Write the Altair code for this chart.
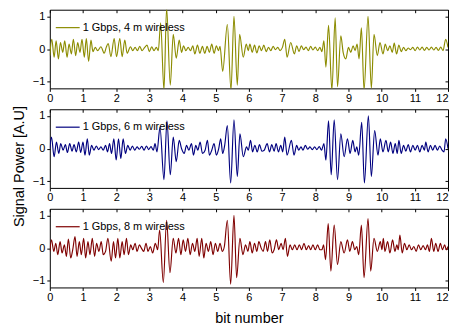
import altair as alt
import pandas as pd

labels = ["1 Gbps, 4 m wireless", "1 Gbps, 6 m wireless", "1 Gbps, 8 m wireless"]
colors = ["#8c8c00", "#00007f", "#7f0000"]
x_ticks = [0, 1, 2, 3, 4, 5, 6, 7, 8, 9, 10, 11, 12]
y_ticks = [-1, 0, 1]

# ---- 4 m wireless (extrema) ----
x4 = [0.00, 0.06, 0.13, 0.19, 0.26, 0.32, 0.39, 0.45, 0.52, 0.58, 0.65, 0.71, 0.78, 0.84, 0.91, 0.97,
      1.04, 1.10, 1.17, 1.24, 1.30, 1.37, 1.44, 1.54, 1.64, 1.70, 1.76, 1.84, 1.94, 2.01, 2.11, 2.18,
      2.26, 2.33, 2.43, 2.50, 2.57, 2.64, 2.71, 2.78, 2.86, 2.93, 3.00, 3.07, 3.14, 3.21, 3.27, 3.34,
      3.44, 3.52, 3.63, 3.72, 3.81, 3.90, 3.97, 4.03, 4.10, 4.17, 4.24, 4.31, 4.37, 4.45, 4.52, 4.60,
      4.67, 4.74, 4.81, 4.88, 4.95, 5.02, 5.08, 5.13, 5.21, 5.35, 5.46, 5.55, 5.65, 5.72, 5.83, 5.92,
      5.98, 6.03, 6.10, 6.17, 6.24, 6.31, 6.38, 6.45, 6.52, 6.59, 6.66, 6.73, 6.80, 6.87, 6.94, 7.01,
      7.08, 7.15, 7.26, 7.37, 7.44, 7.51, 7.58, 7.65, 7.72, 7.79, 7.86, 7.93, 8.00, 8.07, 8.14, 8.20,
      8.26, 8.32, 8.40, 8.50, 8.60, 8.67, 8.77, 8.84, 8.92, 9.00, 9.07, 9.14, 9.20, 9.26, 9.32, 9.39,
      9.47, 9.59, 9.69, 9.77, 9.87, 9.95, 10.04, 10.11, 10.18, 10.25, 10.32, 10.38, 10.45, 10.52, 10.59, 10.66,
      10.73, 10.80, 10.87, 10.94, 11.01, 11.08, 11.15, 11.22, 11.29, 11.36, 11.43, 11.50, 11.57, 11.64, 11.71, 11.78,
      11.85, 11.93, 12.00]
y4 = [-0.2, 0.3, -0.25, 0.25, -0.3, 0.2, -0.1, 0.25, -0.25, 0.15, -0.15, 0.3, -0.2, 0.2, -0.1, 0.3,
      -0.25, 0.32, -0.38, 0.27, -0.08, 0.05, -0.05, 0.07, -0.13, 0.05, 0.17, -0.23, 0.32, -0.23, 0.32, -0.23,
      0.27, -0.13, 0.07, -0.05, 0.05, -0.05, 0.08, -0.05, 0.05, 0.12, -0.08, 0.07, -0.05, 0.05, -0.05, 0.8,
      -1.25, 1.25, -1.1, 0.45, -0.28, 0.27, -0.1, 0.1, -0.05, 0.05, -0.05, 0.1, -0.15, 0.12, -0.13, 0.08,
      -0.13, 0.08, -0.1, 0.15, -0.13, 0.1, -0.05, 0.08, -0.68, 0.75, -1.25, 1.0, -1.1, 0.45, -0.25, 0.15,
      -0.05, 0.15, -0.1, 0.12, -0.12, 0.1, -0.05, 0.12, -0.08, 0.05, -0.05, 0.08, -0.02, 0.05, -0.05, 0.05,
      0.3, -0.25, 0.2, -0.15, 0.1, -0.08, 0.1, -0.02, 0.06, -0.05, 0.08, -0.03, 0.06, -0.05, 0.05, -0.08,
      0.25, -0.55, 0.72, -1.25, 0.95, -1.15, 0.4, -0.1, -0.3, 0.05, -0.1, 0.1, -0.05, 0.15, -0.3, 0.65,
      -1.25, 1.0, -1.2, 0.45, -0.2, 0.2, -0.15, 0.15, -0.05, 0.1, -0.1, 0.18, -0.15, 0.12, -0.08, 0.05,
      -0.05, 0.03, -0.02, 0.05, -0.05, 0.06, -0.03, 0.06, -0.04, 0.05, -0.03, 0.06, -0.03, 0.05, -0.04, 0.06,
      -0.05, 0.3, 0.05]

# ---- 6 m wireless ----
x6 = [0.00, 0.05, 0.13, 0.20, 0.27, 0.33, 0.40, 0.47, 0.53, 0.60, 0.67, 0.73, 0.80, 0.87, 0.93, 1.00,
      1.06, 1.13, 1.19, 1.26, 1.33, 1.40, 1.47, 1.54, 1.61, 1.68, 1.74, 1.80, 1.86, 1.93, 2.00, 2.07,
      2.14, 2.21, 2.28, 2.35, 2.42, 2.49, 2.56, 2.63, 2.70, 2.77, 2.84, 2.91, 2.98, 3.05, 3.12, 3.17,
      3.23, 3.32, 3.44, 3.53, 3.63, 3.72, 3.81, 3.90, 3.97, 4.05, 4.12, 4.19, 4.27, 4.33, 4.40, 4.46,
      4.53, 4.60, 4.68, 4.75, 4.81, 4.88, 4.95, 5.02, 5.09, 5.15, 5.21, 5.27, 5.35, 5.45, 5.55, 5.65,
      5.73, 5.83, 5.93, 5.98, 6.05, 6.11, 6.18, 6.25, 6.32, 6.39, 6.46, 6.55, 6.62, 6.69, 6.76, 6.82,
      6.89, 6.96, 7.02, 7.08, 7.15, 7.28, 7.36, 7.44, 7.50, 7.57, 7.63, 7.70, 7.77, 7.84, 7.91, 7.98,
      8.05, 8.12, 8.19, 8.26, 8.32, 8.40, 8.48, 8.57, 8.67, 8.77, 8.87, 8.97, 9.05, 9.13, 9.20, 9.25,
      9.31, 9.40, 9.48, 9.60, 9.69, 9.79, 9.89, 9.96, 10.04, 10.13, 10.20, 10.27, 10.34, 10.41, 10.47, 10.52,
      10.59, 10.66, 10.73, 10.80, 10.87, 10.94, 11.01, 11.08, 11.15, 11.22, 11.29, 11.33, 11.40, 11.47, 11.54, 11.61,
      11.68, 11.75, 11.82, 11.88, 11.93, 12.00]
y6 = [0.0, 0.35, -0.25, 0.2, -0.15, 0.15, -0.05, 0.12, -0.12, 0.15, -0.08, 0.12, -0.1, 0.2, -0.12, 0.2,
      -0.2, 0.3, -0.2, 0.1, -0.05, 0.08, -0.03, 0.05, -0.05, 0.1, -0.1, 0.15, -0.15, 0.3, -0.35, 0.3,
      -0.3, 0.3, -0.15, 0.1, -0.05, 0.08, -0.05, 0.05, -0.02, 0.07, -0.05, 0.08, -0.03, 0.06, -0.05, 0.15,
      -0.1, 0.65, -0.95, 0.85, -0.8, 0.35, -0.4, 0.25, 0.0, -0.15, 0.1, -0.05, 0.15, -0.2, 0.1, -0.05,
      0.2, -0.15, -0.05, 0.25, -0.2, -0.05, 0.15, -0.2, 0.0, 0.3, -0.15, 0.1, 0.7, -1.05, 0.88, -0.85,
      0.45, -0.25, 0.05, -0.05, 0.25, -0.1, 0.1, -0.1, 0.12, -0.08, -0.05, 0.15, -0.1, 0.12, -0.08, 0.15,
      -0.1, 0.1, -0.1, 0.35, -0.2, 0.25, -0.2, 0.1, -0.05, 0.05, -0.05, 0.1, -0.02, 0.05, -0.03, 0.05,
      -0.03, 0.06, -0.05, 0.15, -0.35, 0.85, -0.8, 0.88, -0.95, 0.45, -0.25, 0.3, -0.15, 0.25, -0.1, 0.05,
      -0.2, 0.8, -1.05, 1.0, -0.85, 0.55, -0.2, 0.3, -0.1, 0.25, -0.1, 0.2, -0.15, 0.15, -0.15, 0.25,
      -0.15, 0.1, -0.08, 0.12, -0.1, 0.1, -0.05, 0.1, -0.1, 0.1, -0.05, 0.2, -0.1, 0.1, -0.05, 0.1,
      -0.05, 0.08, -0.05, -0.1, 0.3, 0.0]

# ---- 8 m wireless ----
x8 = [0.00, 0.05, 0.12, 0.18, 0.24, 0.31, 0.37, 0.44, 0.50, 0.56, 0.63, 0.69, 0.76, 0.82, 0.89, 0.95,
      1.02, 1.08, 1.15, 1.21, 1.28, 1.35, 1.41, 1.48, 1.55, 1.61, 1.68, 1.75, 1.85, 1.92, 1.98, 2.05,
      2.11, 2.18, 2.24, 2.31, 2.37, 2.44, 2.50, 2.57, 2.63, 2.70, 2.76, 2.83, 2.90, 2.96, 3.03, 3.10,
      3.18, 3.25, 3.31, 3.42, 3.52, 3.62, 3.72, 3.80, 3.88, 3.95, 4.02, 4.09, 4.16, 4.23, 4.30, 4.37,
      4.44, 4.50, 4.58, 4.64, 4.71, 4.78, 4.85, 4.92, 4.99, 5.06, 5.13, 5.20, 5.26, 5.35, 5.45, 5.55,
      5.63, 5.73, 5.82, 5.90, 5.97, 6.03, 6.10, 6.17, 6.24, 6.30, 6.37, 6.43, 6.50, 6.56, 6.63, 6.70,
      6.76, 6.83, 6.90, 6.97, 7.03, 7.10, 7.16, 7.24, 7.31, 7.38, 7.45, 7.52, 7.59, 7.66, 7.73, 7.80,
      7.86, 7.93, 8.00, 8.07, 8.14, 8.20, 8.25, 8.31, 8.39, 8.47, 8.57, 8.67, 8.77, 8.87, 8.97, 9.04,
      9.12, 9.19, 9.25, 9.31, 9.39, 9.47, 9.59, 9.67, 9.77, 9.87, 9.96, 10.01, 10.05, 10.10, 10.18, 10.25,
      10.33, 10.40, 10.46, 10.50, 10.55, 10.62, 10.69, 10.76, 10.83, 10.90, 10.97, 11.04, 11.11, 11.18, 11.25, 11.32,
      11.38, 11.44, 11.50, 11.57, 11.63, 11.70, 11.77, 11.83, 11.90, 11.95, 12.00]
y8 = [-0.1, 0.25, -0.1, 0.15, -0.2, 0.2, -0.15, 0.1, -0.25, 0.28, -0.3, -0.05, 0.35, -0.25, 0.2, -0.2,
      0.3, -0.3, 0.2, -0.2, 0.3, -0.25, 0.15, -0.1, 0.2, -0.2, -0.1, 0.3, -0.4, 0.2, -0.3, 0.3,
      -0.3, 0.2, -0.2, 0.3, -0.2, 0.1, -0.05, 0.15, -0.1, 0.1, 0.0, -0.1, 0.15, -0.1, 0.05, -0.15,
      0.15, -0.05, 0.55, -1.05, 0.85, -0.75, 0.3, -0.15, 0.3, -0.2, 0.25, -0.1, 0.3, -0.2, 0.15, -0.1,
      0.3, -0.25, 0.3, -0.3, 0.15, -0.1, 0.2, -0.2, 0.15, -0.1, 0.15, -0.1, 0.05, 0.85, -1.1, 1.0,
      -0.9, 0.3, -0.2, 0.1, -0.1, 0.2, -0.15, 0.15, -0.1, 0.2, 0.0, -0.1, 0.2, -0.1, 0.25, -0.15,
      -0.05, 0.25, -0.05, 0.15, -0.05, 0.3, -0.25, 0.1, -0.05, 0.1, -0.05, 0.1, -0.05, 0.15, -0.05, 0.08,
      -0.05, 0.1, -0.05, 0.1, -0.05, -0.05, 0.1, -0.35, 0.75, -0.7, 0.7, -0.5, 0.2, -0.15, 0.25, -0.1,
      0.2, -0.05, 0.05, -0.2, 0.7, -0.9, 0.9, -0.7, 0.3, -0.1, 0.2, -0.05, 0.3, -0.1, 0.2, -0.15,
      0.25, -0.1, 0.1, -0.05, 0.4, -0.15, 0.15, -0.05, 0.1, -0.05, 0.05, -0.1, 0.1, -0.05, 0.08, -0.05,
      0.1, -0.1, 0.3, -0.1, 0.15, -0.1, 0.15, -0.05, 0.1, -0.05, 0.05]

series = [(x4, y4), (x6, y6), (x8, y8)]

FONT = "Liberation Sans"


def panel(i):
    xs, ys = series[i]
    df = pd.DataFrame({"bit": xs, "power": ys, "series": labels[i]})
    base = alt.Chart(df)
    x_title = "bit number" if i == 2 else None
    y_axis = dict(orient="left", values=y_ticks, format="d", tickSize=3, labelPadding=2,
                  domain=False, labelFontSize=11, labelColor="black", tickColor="black")
    if i == 1:
        y_axis.update(title="Signal Power [A.U]", titleFontSize=14.5, titleFontWeight="normal",
                      titleX=-23, titleY=57)
    else:
        y_axis.update(title=None)
    line = base.mark_line(clip=True, strokeWidth=1.15, interpolate="monotone").encode(
        x=alt.X("bit:Q", scale=alt.Scale(domain=[0, 12], nice=False, zero=False),
                axis=alt.Axis(orient="bottom", values=x_ticks, format="d", tickSize=3,
                              labelPadding=1, domain=False, labelFontSize=11,
                              labelAlign={"condition": {"test": "datum.value == 12", "value": "right"},
                                          "value": "center"},
                              labelColor="black", tickColor="black", title=x_title,
                              titleFontSize=14.5, titleFontWeight="normal", titlePadding=9)),
        y=alt.Y("power:Q", scale=alt.Scale(domain=[-1.2, 1.2], nice=False, zero=False),
                axis=alt.Axis(**y_axis)),
        color=alt.Color("series:N", title=None,
                        scale=alt.Scale(domain=[labels[i]], range=[colors[i]]),
                        legend=alt.Legend(orient="top-left", offset=5, padding=0,
                                          symbolType="stroke", symbolSize=576,
                                          symbolStrokeWidth=1.2, labelFontSize=11,
                                          labelOffset=2, labelColor="black",
                                          labelFont=FONT)),
    )
    mirror = base.mark_line(opacity=0, clip=True).encode(
        x=alt.X("bit:Q", scale=alt.Scale(domain=[0, 12], nice=False, zero=False),
                axis=alt.Axis(orient="top", values=x_ticks, labels=False, tickSize=3,
                              offset=-3, domain=False, title=None, tickColor="black")),
        y=alt.Y("power:Q", scale=alt.Scale(domain=[-1.2, 1.2], nice=False, zero=False),
                axis=alt.Axis(orient="right", values=y_ticks, labels=False, tickSize=3,
                              offset=-3, domain=False, title=None, tickColor="black")),
    )
    return alt.layer(line, mirror).properties(width=400, height=79)


chart = alt.vconcat(panel(0), panel(1), panel(2), spacing=21, bounds="flush").resolve_scale(
    color="independent"
).properties(
    padding={"left": 3, "top": 0, "right": 0, "bottom": 0},
    background="white",
).configure(
    font=FONT
).configure_view(
    stroke="black", strokeWidth=1
).configure_axis(
    grid=False, labelFont=FONT, titleFont=FONT, titleColor="black"
)

chart.save("out.html", embed_options={"renderer": "svg", "actions": False})
